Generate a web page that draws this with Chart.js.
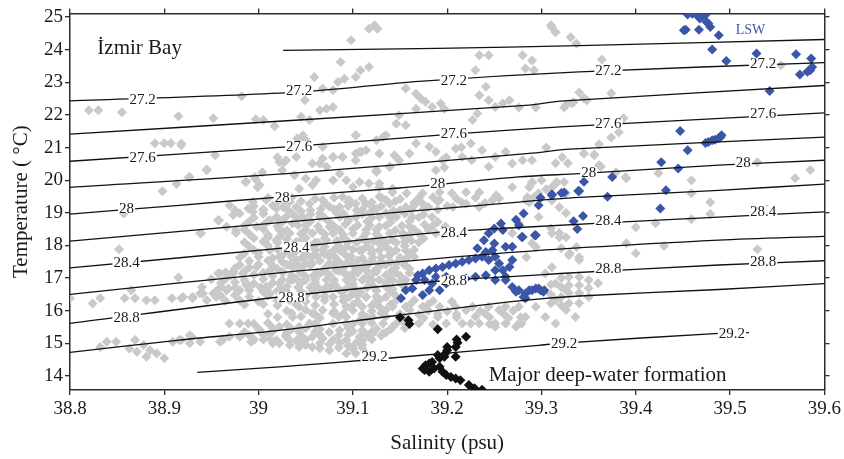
<!DOCTYPE html>
<html>
<head>
<meta charset="utf-8">
<script src="https://cdn.jsdelivr.net/npm/chart.js@4.4.1/dist/chart.umd.min.js"></script>
<style>
  html, body { margin: 0; padding: 0; background: #fff; }
  #wrap { width: 844px; height: 459px; }
</style>
</head>
<body>
<div id="wrap"><canvas id="ts" width="844" height="459"></canvas></div>
<script>
"use strict";

// Isopycnals (sigma-theta) as [salinity, temperature]
const sigma270 = [[39.026, 23.98], [39.19, 24.04], [39.34, 24.12], [39.6, 24.31]];
const sigma272 = [[38.8, 22.43], [39.043, 22.70], [39.17, 23.03], [39.34, 23.32], [39.6, 23.60]];
const sigma274 = [[38.8, 21.41], [39.03, 21.82], [39.287, 22.30], [39.32, 22.42], [39.6, 22.90]];
const sigma276 = [[38.8, 20.58], [39.03, 21.02], [39.205, 21.41], [39.32, 21.63], [39.6, 22.06]];
const sigma278 = [[38.8, 19.78], [39.03, 20.20], [39.287, 20.82], [39.33, 20.95], [39.6, 21.32]];
const sigma280 = [[38.8, 18.96], [38.916, 19.23], [39.025, 19.49], [39.149, 19.76], [39.276, 20.10], [39.34, 20.20], [39.488, 20.46], [39.6, 20.61]];
const sigma282 = [[38.8, 18.13], [39.022, 18.70], [39.276, 19.33], [39.34, 19.47], [39.488, 19.69], [39.6, 19.88]];
const sigma284 = [[38.8, 17.31], [39.022, 17.91], [39.19, 18.40], [39.276, 18.55], [39.488, 18.87], [39.6, 19.03]];
const sigma286 = [[38.8, 16.50], [39.022, 17.16], [39.276, 17.80], [39.488, 18.16], [39.6, 18.28]];
const sigma288 = [[38.8, 15.61], [39.022, 16.42], [39.205, 16.94], [39.276, 17.06], [39.32, 17.14], [39.488, 17.40], [39.6, 17.53]];
const sigma290 = [[38.8, 14.72], [38.916, 15.10], [39.022, 15.40], [39.149, 15.86], [39.276, 16.30], [39.34, 16.45], [39.488, 16.65], [39.6, 16.83]];
const sigma292 = [[38.935, 14.11], [39.022, 14.28], [39.14, 14.55], [39.297, 14.94], [39.319, 15.0], [39.484, 15.30], [39.52, 15.33]];

// Contour labels: [text, salinity, temperature]
const contourLabels = [
    ["27.2", 38.877, 22.48], ["27.2", 39.043, 22.76], ["27.2", 39.207, 23.06], ["27.2", 39.371, 23.37], ["27.2", 39.535, 23.58],
    ["27.6", 38.877, 20.70], ["27.6", 39.043, 21.04], ["27.6", 39.207, 21.44], ["27.6", 39.371, 21.74], ["27.6", 39.535, 22.05],
    ["28", 38.86, 19.14], ["28", 39.025, 19.48], ["28", 39.19, 19.91], ["28", 39.35, 20.24], ["28", 39.514, 20.55],
    ["28.4", 38.86, 17.49], ["28.4", 39.04, 17.95], ["28.4", 39.207, 18.41], ["28.4", 39.371, 18.77], ["28.4", 39.535, 19.05],
    ["28.8", 38.86, 15.81], ["28.8", 39.035, 16.42], ["28.8", 39.207, 16.94], ["28.8", 39.371, 17.30], ["28.8", 39.535, 17.52],
    ["29.2", 39.123, 14.61], ["29.2", 39.324, 15.01], ["29.2", 39.502, 15.31],
];

// Izmir Bay stations [salinity, temperature]
const bayStations = [
    [38.82, 22.14], [38.83, 22.14], [38.855, 22.08], [38.915, 21.96], [38.952, 21.90], [38.982, 22.57], [38.997, 21.87],
    [39.005, 21.84], [39.017, 21.65], [38.89, 21.13], [38.90, 21.13], [38.907, 21.13], [38.918, 21.07], [38.954, 20.76],
    [38.945, 20.33], [38.926, 20.09], [38.913, 19.88], [38.898, 19.66], [38.986, 19.94], [38.999, 19.78], [39.004, 20.24],
    [39.02, 20.70], [39.027, 20.55], [39.038, 20.15], [39.025, 20.30], [39.041, 21.28], [38.997, 20.03],
    [39.117, 24.64], [39.126, 24.64], [39.123, 24.75], [39.098, 24.29], [39.087, 23.62], [39.108, 23.37], [39.117, 23.47],
    [39.103, 23.16], [39.091, 23.11], [39.084, 23.01], [39.079, 22.76], [39.068, 22.81], [39.059, 23.16], [39.049, 22.45],
    [39.045, 21.94], [39.065, 22.14], [39.072, 22.19], [39.079, 22.24], [39.054, 21.84], [39.156, 22.81], [39.167, 22.65],
    [39.172, 22.50], [39.184, 22.24], [39.193, 22.35], [39.197, 22.19], [39.177, 22.40], [39.167, 22.19], [39.156, 21.68],
    [39.149, 21.99], [39.146, 21.73], [39.135, 21.38], [39.125, 21.22], [39.114, 20.92], [39.103, 20.82], [39.089, 20.71],
    [39.079, 20.71], [39.068, 20.66], [39.057, 20.51], [39.103, 21.38], [39.125, 20.30], [39.139, 20.41], [39.149, 20.61],
    [39.16, 20.82], [39.167, 21.12], [39.181, 21.02], [39.188, 20.87], [39.195, 20.61], [39.209, 20.97], [39.234, 23.83],
    [39.244, 23.83], [39.23, 23.37], [39.241, 22.86], [39.244, 22.45], [39.234, 22.60], [39.232, 22.04], [39.227, 21.84],
    [39.259, 22.35], [39.266, 22.45], [39.251, 22.24], [39.28, 23.83], [39.283, 23.42], [39.225, 21.12], [39.237, 20.92],
    [39.251, 20.71], [39.262, 20.87], [39.216, 20.71], [39.244, 20.41], [39.269, 20.51], [39.28, 20.61],
    [39.31, 24.75], [39.311, 24.68], [39.315, 24.53], [39.331, 24.38], [39.29, 23.67], [39.292, 23.37], [39.276, 22.23],
    [39.294, 22.23], [39.324, 22.23], [39.332, 22.36], [39.305, 21.0], [39.315, 20.52], [39.322, 20.70], [39.29, 20.61],
    [39.107, 19.94], [39.128, 19.78], [39.142, 19.63], [39.157, 19.60], [39.174, 19.60], [39.192, 19.63], [39.205, 19.60],
    [39.22, 19.63], [39.234, 19.63], [39.252, 19.54], [39.269, 19.78], [39.29, 19.94], [39.315, 19.88], [39.326, 19.60],
    [39.107, 20.86], [39.128, 20.82], [39.144, 20.76], [39.199, 20.70], [39.197, 20.39], [39.188, 20.30], [39.226, 20.61],
    [39.215, 21.01],
    [39.337, 24.19], [39.364, 23.70], [39.326, 22.30], [39.334, 22.39], [39.34, 22.69], [39.345, 22.51], [39.348, 22.45],
    [39.374, 22.66], [39.387, 21.90], [39.382, 21.47], [39.374, 21.31], [39.361, 21.10], [39.345, 20.82], [39.356, 20.79],
    [39.363, 20.42], [39.328, 20.52], [39.324, 19.94], [39.379, 20.24], [39.389, 20.09], [39.529, 20.55], [39.569, 20.06],
    [39.585, 20.31], [39.554, 23.52],
    [39.459, 19.60], [39.479, 19.32], [39.479, 18.96], [39.459, 18.80], [39.40, 18.56], [39.421, 18.68], [39.40, 17.76],
    [39.39, 18.07], [39.43, 17.98], [39.529, 17.88], [39.539, 19.11], [39.39, 20.06], [39.424, 20.21], [39.459, 20.0],
    [39.279, 15.61], [39.278, 15.80], [39.321, 17.91], [39.329, 17.70], [39.34, 17.64], [39.319, 18.25], [39.31, 18.53],
    [39.29, 18.07], [39.319, 18.38], [39.33, 17.76], [39.34, 17.55],
    [39.321, 17.0], [39.321, 16.72], [39.321, 16.42], [39.321, 16.17], [39.329, 17.03], [39.329, 16.78], [39.329, 16.54],
    [39.329, 16.23], [39.34, 17.03], [39.34, 16.78], [39.34, 16.54], [39.34, 16.23], [39.35, 16.94], [39.35, 16.69],
    [39.35, 16.42], [39.36, 16.84], [39.31, 16.23], [39.31, 16.5], [39.31, 16.8],
    [39.356, 20.76], [39.345, 20.82], [39.361, 20.46], [39.29, 19.91], [39.30, 20.0], [39.305, 19.72], [39.311, 19.78],
    [39.316, 19.94], [39.297, 19.60], [39.292, 19.48], [39.285, 19.48], [39.287, 19.32],
    [39.287, 19.78], [39.284, 19.38], [39.311, 19.38], [39.319, 19.17], [39.326, 18.99], [39.297, 18.87], [39.276, 18.68],
    [39.269, 18.37], [39.311, 18.37], [39.326, 18.25], [39.337, 17.95], [39.294, 17.95], [39.284, 17.64], [39.311, 17.33],
    [38.918, 21.12], [38.945, 20.30], [38.927, 20.10], [38.987, 19.95], [38.996, 20.10], [39.001, 19.85], [39.022, 20.56],
    [39.029, 20.61], [39.04, 20.71], [39.047, 21.38], [39.05, 21.22], [39.068, 21.02], [39.079, 20.71], [39.089, 20.71],
    [39.103, 20.61], [39.109, 20.87], [39.103, 21.38], [39.132, 21.32], [39.139, 20.41], [39.125, 20.25], [39.117, 19.90],
    [39.128, 19.90], [39.142, 19.74], [39.05, 20.05], [39.061, 20.0], [39.057, 19.85], [39.043, 19.74], [39.033, 19.33],
    [39.026, 19.18], [39.019, 19.13], [39.005, 19.08], [38.994, 19.03], [38.989, 19.13], [38.969, 19.23], [38.975, 19.08],
    [38.98, 18.98], [38.957, 18.77], [38.966, 18.57], [38.976, 18.47], [38.938, 18.37], [38.998, 18.57], [39.012, 18.77],
    [39.022, 18.47], [39.036, 18.67], [39.047, 18.83], [39.065, 18.98], [39.075, 18.57], [39.089, 19.49], [39.096, 19.39],
    [39.114, 19.28], [39.128, 19.49], [39.135, 19.39], [39.086, 18.47], [39.114, 18.47], [39.128, 18.57], [39.072, 18.16],
    [39.022, 18.26], [39.019, 18.16], [39.012, 17.85], [39.022, 17.65], [39.04, 17.55], [39.057, 17.65], [39.075, 17.75],
    [39.093, 17.96], [39.107, 17.85], [39.128, 18.06], [39.142, 18.16], [39.10, 17.45], [39.128, 17.45], [39.079, 20.0],
    [39.093, 20.0], [39.10, 19.79], [39.086, 20.20], [39.072, 20.41], [39.065, 20.51],
    [38.959, 17.14], [38.973, 17.14], [38.987, 16.78], [38.98, 16.63], [38.966, 16.63], [38.952, 16.53], [38.941, 16.53],
    [38.93, 16.42], [38.92, 16.42], [38.969, 15.61], [38.98, 15.61], [38.989, 15.61], [38.927, 15.25], [38.916, 15.10],
    [38.962, 15.10], [38.992, 15.05], [39.012, 15.15], [39.019, 15.10], [39.029, 15.25], [39.043, 15.35], [39.057, 15.20],
    [39.068, 15.15], [39.079, 15.10], [39.093, 15.10], [39.103, 15.0], [39.114, 14.69], [39.075, 14.79], [39.057, 14.89],
    [39.043, 15.0], [39.033, 15.10], [39.008, 16.73], [39.022, 16.83], [39.036, 16.94], [39.05, 17.04], [39.065, 17.14],
    [39.082, 17.24], [39.10, 17.14], [39.114, 17.24], [39.128, 17.34], [39.005, 17.14], [38.998, 17.34], [39.015, 17.34],
    [39.033, 17.40], [39.05, 17.45], [39.012, 16.53], [39.033, 16.32], [39.043, 16.12], [39.057, 15.92], [39.054, 15.61],
    [39.043, 15.51], [39.036, 15.81], [39.068, 16.02], [39.079, 15.92], [39.093, 15.81], [39.107, 15.71], [39.121, 15.81],
    [39.135, 16.02], [39.128, 16.32], [39.114, 16.42], [39.10, 16.53], [39.086, 16.63], [39.072, 16.73], [39.057, 16.63],
    [39.142, 15.51], [39.132, 15.30], [39.121, 15.30], [39.107, 15.20],
    [38.80, 16.38], [38.824, 16.22], [38.832, 16.38], [38.858, 16.38], [38.869, 16.38], [38.881, 16.32], [38.89, 16.32],
    [38.908, 16.38], [38.918, 16.38], [38.93, 16.38], [38.938, 16.53], [38.945, 16.32], [38.955, 16.42], [38.915, 17.02],
    [38.865, 16.63], [38.852, 17.88], [38.857, 18.98], [38.939, 18.37], [38.958, 18.77], [38.973, 18.93], [38.976, 18.38],
    [38.968, 16.68], [38.978, 16.63], [38.987, 16.83], [38.983, 17.14], [38.973, 17.19], [38.957, 17.14],
    [38.832, 14.89], [38.839, 15.05], [38.849, 15.05], [38.869, 15.10], [38.878, 14.95], [38.885, 14.79], [38.892, 14.69],
    [38.90, 14.54], [38.881, 14.59], [38.871, 14.74], [38.863, 14.84], [38.909, 15.05], [38.918, 15.10], [38.929, 15.20],
    [38.927, 15.0], [38.938, 15.05], [38.959, 15.05], [38.969, 15.20], [38.98, 15.20], [38.994, 15.15], [39.001, 15.40],
    [39.012, 15.30], [39.022, 15.51], [39.029, 15.20], [39.043, 14.89], [39.015, 15.0], [39.033, 14.95],
    [38.994, 19.33], [39.008, 19.39], [39.019, 18.87], [39.026, 18.41], [39.029, 17.80], [39.036, 17.34], [39.029, 16.63],
    [39.022, 16.32], [39.012, 17.24],
    [39.028, 19.39], [39.04, 19.18], [39.054, 19.28], [39.068, 19.39], [39.086, 19.18], [39.103, 19.28], [39.121, 19.18],
    [39.139, 19.28], [39.156, 19.18], [39.174, 19.28], [39.192, 19.39], [39.206, 19.18], [39.22, 19.28], [39.234, 19.18],
    [39.248, 19.39],
    [39.029, 18.87], [39.047, 18.87], [39.065, 18.87], [39.086, 18.87], [39.103, 18.87], [39.128, 18.87], [39.146, 18.87],
    [39.163, 18.87], [39.184, 18.87], [39.033, 18.37], [39.057, 18.37], [39.079, 18.37], [39.10, 18.37], [39.114, 18.37],
    [39.139, 18.37], [39.153, 18.37], [39.17, 18.37], [39.188, 18.37], [39.213, 18.37], [39.029, 17.85], [39.047, 17.85],
    [39.068, 17.85], [39.086, 17.85], [39.11, 17.85], [39.128, 17.85], [39.146, 17.85], [39.156, 17.85], [39.04, 17.45],
    [39.057, 17.45], [39.075, 17.45], [39.093, 17.45], [39.114, 17.45], [39.132, 17.45], [39.146, 17.45], [39.033, 16.94],
    [39.05, 16.94], [39.072, 16.94], [39.093, 16.94], [39.11, 16.94], [39.128, 16.94], [39.142, 16.94], [39.156, 16.94],
    [39.043, 16.42], [39.061, 16.42], [39.079, 16.42], [39.096, 16.42], [39.114, 16.42], [39.135, 16.42],
    [39.093, 16.12], [39.11, 16.12], [39.128, 16.12], [39.142, 16.12], [39.156, 16.12], [39.174, 16.12], [39.192, 16.12],
    [39.209, 16.12], [39.227, 16.12], [39.244, 16.12], [39.262, 16.12], [39.276, 16.12],
    [39.079, 15.61], [39.093, 15.61], [39.11, 15.61], [39.132, 15.61], [39.146, 15.61], [39.17, 15.61], [39.199, 15.61],
    [39.216, 15.61], [39.234, 15.61], [39.251, 15.61], [39.262, 15.61], [39.276, 15.61], [39.086, 15.40], [39.11, 15.40],
    [39.022, 15.0], [39.065, 15.0], [39.086, 15.0], [39.093, 14.69], [39.103, 14.69],
    [39.304, 17.14], [39.315, 16.83], [39.326, 16.63], [39.315, 16.32], [39.326, 16.02], [39.336, 15.81], [39.315, 15.61],
    [39.304, 15.81], [39.294, 16.12], [39.283, 15.81], [39.273, 15.51], [39.262, 15.61], [39.251, 15.51],
    [39.045, 19.05], [39.066, 19.12], [39.082, 19.02], [39.104, 19.08], [39.118, 19.0], [39.143, 19.06], [39.162, 19.1],
    [39.042, 18.62], [39.063, 18.58], [39.092, 18.65], [39.118, 18.62], [39.152, 18.6], [39.176, 18.64], [39.198, 18.58],
    [39.044, 18.12], [39.063, 18.08], [39.083, 18.14], [39.104, 18.1], [39.122, 18.12], [39.146, 18.08], [39.162, 18.14],
    [39.024, 17.66], [39.046, 17.62], [39.062, 17.68], [39.081, 17.64], [39.098, 17.66], [39.121, 17.62], [39.138, 17.68],
    [39.158, 17.64], [39.026, 17.18], [39.043, 17.22], [39.062, 17.18], [39.085, 17.22], [39.103, 17.2], [39.122, 17.18],
    [39.141, 17.22], [39.16, 17.16], [39.002, 16.72], [39.024, 16.66], [39.042, 16.72], [39.064, 16.68], [39.083, 16.72],
    [39.102, 16.68], [39.123, 16.72], [39.142, 16.66],
    // dense core of the cloud
    [39.01, 19.45], [39.035, 19.47], [39.06, 19.43], [39.08, 19.46], [39.11, 19.44], [39.13, 19.47], [39.15, 19.42],
    [39.17, 19.45], [39.185, 19.48], [39.21, 19.43], [39.23, 19.46], [39.255, 19.44],
    [38.995, 19.2], [39.015, 19.22], [39.075, 19.19], [39.095, 19.21], [39.13, 19.2], [39.165, 19.22], [39.18, 19.18],
    [39.2, 19.21], [39.005, 18.97], [39.035, 18.99], [39.055, 18.95], [39.09, 18.98], [39.11, 18.96], [39.135, 18.99],
    [39.155, 18.97], [39.175, 18.95], [38.99, 18.73], [39.01, 18.75], [39.025, 18.71], [39.055, 18.74], [39.075, 18.72],
    [39.095, 18.75], [39.115, 18.73], [39.14, 18.71], [39.16, 18.74], [39.19, 18.72], [38.985, 18.48], [39.005, 18.5],
    [39.03, 18.46], [39.05, 18.49], [39.065, 18.47], [39.1, 18.5], [39.125, 18.48], [39.145, 18.46], [39.165, 18.49],
    [39.18, 18.47], [39.2, 18.5], [38.995, 18.22], [39.01, 18.24], [39.03, 18.2], [39.05, 18.23], [39.07, 18.21],
    [39.09, 18.24], [39.11, 18.22], [39.13, 18.2], [39.155, 18.23], [39.175, 18.21], [38.99, 17.97], [39.01, 17.99],
    [39.03, 17.95], [39.055, 17.98], [39.07, 17.96], [39.085, 17.99], [39.115, 17.97], [39.135, 17.95], [39.155, 17.98],
    [38.985, 17.75], [39.0, 17.77], [39.035, 17.73], [39.05, 17.76], [39.07, 17.74], [39.09, 17.77], [39.12, 17.75],
    [39.14, 17.73], [39.16, 17.76], [38.99, 17.52], [39.01, 17.54], [39.025, 17.5], [39.065, 17.53], [39.085, 17.51],
    [39.105, 17.54], [39.12, 17.52], [39.14, 17.5], [39.155, 17.53], [38.975, 17.3], [38.99, 17.32], [39.02, 17.28],
    [39.045, 17.31], [39.07, 17.29], [39.09, 17.32], [39.108, 17.3], [39.125, 17.28], [39.145, 17.31], [39.16, 17.29],
    [38.97, 17.08], [38.995, 17.1], [39.015, 17.06], [39.035, 17.09], [39.058, 17.07], [39.075, 17.1], [39.095, 17.08],
    [39.115, 17.06], [39.135, 17.09], [39.15, 17.07], [38.96, 16.85], [38.975, 16.87], [38.995, 16.83], [39.015, 16.86],
    [39.045, 16.84], [39.06, 16.87], [39.08, 16.85], [39.1, 16.83], [39.118, 16.86], [39.135, 16.84], [39.15, 16.87],
    [38.955, 16.6], [38.99, 16.62], [39.005, 16.58], [39.02, 16.61], [39.045, 16.59], [39.07, 16.62], [39.09, 16.6],
    [39.108, 16.58], [39.125, 16.61], [39.14, 16.59], [38.965, 16.3], [38.98, 16.32], [39.0, 16.28], [39.02, 16.31],
    [39.05, 16.29], [39.07, 16.32], [39.09, 16.3], [39.105, 16.28], [39.125, 16.31], [39.145, 16.29], [39.165, 16.32],
    [39.185, 16.3], [39.205, 16.28], [39.03, 16.0], [39.05, 16.02], [39.08, 15.98], [39.1, 16.01], [39.12, 15.99],
    [39.16, 16.02], [39.18, 16.0], [39.2, 15.98], [39.22, 16.01], [39.235, 15.99], [39.255, 16.02], [39.27, 16.0],
    [39.02, 15.8], [39.045, 15.82], [39.065, 15.78], [39.085, 15.81], [39.115, 15.79], [39.135, 15.82], [39.155, 15.8],
    [39.175, 15.78], [39.19, 15.81], [39.21, 15.79], [39.23, 15.82], [39.245, 15.8], [39.265, 15.78],
    [39.0, 15.45], [39.015, 15.47], [39.035, 15.43], [39.05, 15.46], [39.065, 15.44], [39.095, 15.47], [39.125, 15.45],
    [39.14, 15.43], [39.155, 15.46], [38.99, 15.25], [39.005, 15.27], [39.045, 15.23], [39.065, 15.26], [39.085, 15.24],
    [39.095, 15.27], [39.115, 15.25], [39.13, 15.23], [39.065, 14.85], [39.085, 14.87], [39.1, 14.83], [39.11, 14.86],
    [39.02, 19.33], [39.045, 19.35], [39.07, 19.31], [39.095, 19.34], [39.12, 19.32], [39.145, 19.35], [39.165, 19.31],
    [39.19, 19.34], [39.215, 19.32], [39.24, 19.3], [39.005, 19.1], [39.03, 19.12], [39.055, 19.08], [39.08, 19.11],
    [39.11, 19.09], [39.125, 19.12], [39.15, 19.08], [39.175, 19.11], [39.19, 19.09], [38.995, 18.85], [39.02, 18.83],
    [39.04, 18.86], [39.07, 18.84], [39.095, 18.82], [39.12, 18.85], [39.14, 18.83], [39.17, 18.86], [38.985, 18.6],
    [39.005, 18.62], [39.02, 18.58], [39.05, 18.61], [39.08, 18.59], [39.105, 18.62], [39.135, 18.6], [39.16, 18.58],
    [39.185, 18.61], [38.99, 18.35], [39.01, 18.33], [39.045, 18.36], [39.07, 18.34], [39.09, 18.32], [39.125, 18.35],
    [39.16, 18.33], [39.195, 18.36], [38.985, 18.1], [39.005, 18.12], [39.02, 18.08], [39.04, 18.11], [39.06, 18.09],
    [39.095, 18.12], [39.115, 18.1], [39.135, 18.08], [39.155, 18.11], [39.17, 18.09], [38.995, 17.86], [39.02, 17.88],
    [39.04, 17.84], [39.06, 17.87], [39.08, 17.85], [39.1, 17.88], [39.12, 17.86], [39.14, 17.84], [39.165, 17.87],
    [38.98, 17.63], [39.0, 17.65], [39.015, 17.61], [39.035, 17.64], [39.055, 17.62], [39.075, 17.65], [39.095, 17.63],
    [39.11, 17.61], [39.13, 17.64], [39.15, 17.62], [39.165, 17.65], [38.98, 17.4], [39.0, 17.42], [39.015, 17.38],
    [39.03, 17.41], [39.055, 17.39], [39.08, 17.42], [39.1, 17.4], [39.115, 17.38], [39.135, 17.41], [39.155, 17.39],
    [38.965, 17.18], [38.985, 17.2], [39.005, 17.16], [39.025, 17.19], [39.045, 17.17], [39.07, 17.2], [39.09, 17.18],
    [39.105, 17.16], [39.125, 17.19], [39.145, 17.17], [38.95, 16.96], [38.965, 16.98], [38.985, 16.94], [39.005, 16.97],
    [39.025, 16.95], [39.04, 16.98], [39.06, 16.96], [39.08, 16.94], [39.1, 16.97], [39.12, 16.95], [39.14, 16.98],
    [38.94, 16.72], [38.96, 16.74], [38.975, 16.7], [38.99, 16.73], [39.01, 16.71], [39.03, 16.74], [39.055, 16.72],
    [39.075, 16.7], [39.095, 16.73], [39.115, 16.71], [39.135, 16.74], [39.155, 16.72], [38.96, 16.45], [38.975, 16.47],
    [38.99, 16.43], [39.01, 16.46], [39.03, 16.44], [39.05, 16.47], [39.07, 16.45], [39.09, 16.43], [39.105, 16.46],
    [39.125, 16.44], [39.145, 16.47], [38.985, 16.18], [39.005, 16.2], [39.02, 16.16], [39.04, 16.19], [39.06, 16.17],
    [39.08, 16.2], [39.1, 16.18], [39.12, 16.16], [39.14, 16.19], [39.16, 16.17], [39.18, 16.2], [39.01, 15.9],
    [39.035, 15.92], [39.06, 15.88], [39.09, 15.91], [39.11, 15.89], [39.13, 15.92], [39.15, 15.9], [39.17, 15.88],
    [39.19, 15.91], [39.21, 15.89], [39.24, 15.92], [39.26, 15.9], [38.995, 15.6], [39.01, 15.62], [39.03, 15.58],
    [39.06, 15.61], [39.1, 15.59], [39.12, 15.62], [39.155, 15.6], [39.185, 15.58], [39.225, 15.61], [39.245, 15.59],
    [38.985, 15.35], [39.015, 15.37], [39.03, 15.33], [39.06, 15.36], [39.075, 15.34], [39.1, 15.37], [39.12, 15.35],
    [39.135, 15.33], [38.995, 15.1], [39.005, 15.12], [39.04, 15.08], [39.05, 15.11], [39.11, 15.09], [39.12, 15.12],
    [39.05, 14.95], [39.075, 14.97], [39.095, 14.93], [39.11, 14.96],
];

// Levantine Surface Water stations
const lswStations = [
    [39.455, 25.08], [39.46, 25.10], [39.465, 25.05], [39.47, 25.02], [39.474, 25.07], [39.468, 24.95],
    [39.451, 24.59], [39.453, 24.61], [39.467, 24.61], [39.475, 24.85], [39.477, 24.80], [39.479, 24.69], [39.488, 24.44],
    [39.481, 24.0], [39.496, 23.65], [39.528, 23.88], [39.542, 22.73], [39.570, 23.86], [39.574, 23.24], [39.582, 23.32],
    [39.585, 23.37], [39.587, 23.47], [39.586, 23.73],
    [39.447, 21.51], [39.455, 20.92], [39.427, 20.55], [39.445, 20.36], [39.432, 19.69], [39.426, 19.13],
    [39.474, 21.14], [39.477, 21.17], [39.481, 21.22], [39.484, 21.24], [39.488, 21.29], [39.49, 21.32], [39.491, 21.38],
    [39.375, 20.10], [39.345, 19.95], [39.339, 19.67], [39.324, 19.62], [39.37, 19.49],
    [39.34, 19.67], [39.311, 19.57], [39.299, 19.46], [39.297, 19.23], [39.281, 18.98], [39.276, 18.62], [39.279, 18.26],
    [39.293, 18.31], [39.334, 18.74], [39.338, 18.50], [39.344, 18.90], [39.311, 19.54], [39.321, 19.61],
    [39.273, 18.79], [39.257, 18.67], [39.25, 18.52], [39.259, 18.47], [39.244, 18.37], [39.239, 18.16], [39.232, 17.91],
    [39.241, 17.80], [39.25, 18.06], [39.262, 17.96], [39.269, 17.96], [39.28, 18.26], [39.294, 18.31],
    [39.248, 17.85], [39.251, 17.65], [39.255, 17.45], [39.259, 17.24], [39.262, 17.04], [39.266, 17.34], [39.269, 17.55],
    [39.251, 17.24], [39.244, 17.55], [39.237, 17.65], [39.23, 17.60], [39.223, 17.55], [39.216, 17.50], [39.209, 17.45],
    [39.202, 17.40], [39.195, 17.34], [39.188, 17.29], [39.181, 17.24], [39.174, 17.14], [39.169, 17.09], [39.176, 16.94],
    [39.184, 16.83], [39.181, 16.63], [39.174, 16.48], [39.163, 16.68], [39.156, 16.63], [39.151, 16.38], [39.167, 16.94],
    [39.188, 17.04], [39.199, 17.04], [39.209, 16.94], [39.22, 16.99], [39.23, 17.04], [39.241, 17.09], [39.251, 16.94],
    [39.262, 16.94], [39.269, 16.73], [39.276, 16.63], [39.283, 16.53], [39.29, 16.63], [39.297, 16.68], [39.303, 16.63],
    [39.283, 16.38], [39.273, 16.58], [39.192, 16.63], [39.199, 16.83],
    [39.287, 16.63], [39.294, 16.68], [39.299, 16.63], [39.302, 16.58], [39.281, 16.42],
];

// Major deep-water formation stations
const deepStations = [
    [39.15, 15.79], [39.159, 15.71], [39.16, 15.59], [39.19, 15.43], [39.20, 14.89], [39.20, 14.79], [39.198, 14.69],
    [39.197, 14.59], [39.21, 15.12], [39.211, 15.02], [39.209, 14.89], [39.22, 15.20], [39.209, 14.59], [39.19, 14.64],
    [39.192, 14.54], [39.184, 14.43], [39.181, 14.38], [39.177, 14.33], [39.174, 14.23], [39.176, 14.18], [39.181, 14.13],
    [39.186, 14.23], [39.192, 14.28], [39.195, 14.13], [39.199, 14.03], [39.204, 13.97], [39.209, 13.92], [39.214, 13.87],
    [39.223, 13.72], [39.229, 13.62], [39.237, 13.58],
];

const isopycnals = [sigma270, sigma272, sigma274, sigma276, sigma278, sigma280,
    sigma282, sigma284, sigma286, sigma288, sigma290, sigma292];

const SERIF = '"Liberation Serif", "DejaVu Serif", serif';
const toXY = (arr) => arr.map(([s, t]) => ({ x: s, y: t }));

/**
 * Contour labels with a white box that breaks the line, plus the free text notes
 */
const annotationPlugin = {
    id: "tsAnnotations",
    afterDatasetsDraw(chart) {
        const { ctx, scales } = chart;
        const x = scales.x;
        const y = scales.y;
        ctx.save();

        ctx.font = "15px " + SERIF;
        ctx.textAlign = "center";
        ctx.textBaseline = "middle";
        contourLabels.forEach(([text, s, t]) => {
            const px = x.getPixelForValue(s);
            const py = y.getPixelForValue(t);
            const w = ctx.measureText(text).width;
            ctx.fillStyle = "#fff";
            ctx.fillRect(px - w / 2 - 1, py - 5, w + 2, 10);
            ctx.fillStyle = "#1a1a1a";
            ctx.fillText(text, px, py + 1);
        });

        // Free text
        ctx.textAlign = "left";
        ctx.font = "21px " + SERIF;
        ctx.fillStyle = "#1a1a1a";
        ctx.fillText("İzmir Bay", x.getPixelForValue(38.829), y.getPixelForValue(24.05));
        ctx.fillText("Major deep-water formation", x.getPixelForValue(39.244), y.getPixelForValue(14.03));
        ctx.font = "14px " + SERIF;
        ctx.fillStyle = "#3f57aa";
        ctx.fillText("LSW", x.getPixelForValue(39.506), y.getPixelForValue(24.59));

        ctx.restore();
    },
};

const axisBorder = { display: true, color: "#2b2b2b", width: 1.5 };
const tickGrid = { drawOnChartArea: false, drawTicks: true, tickLength: 5, color: "#2b2b2b", lineWidth: 1.3 };
const tickFont = { family: SERIF, size: 19 };
const titleFont = { family: SERIF, size: 21 };

const datasets = [];
isopycnals.forEach((line) => {
    datasets.push({
        data: toXY(line),
        showLine: true,
        borderColor: "#111",
        borderWidth: 1.3,
        pointRadius: 0,
        tension: 0.3,
        order: 0,
    });
});
datasets.push({
    data: toXY(deepStations),
    backgroundColor: "#111",
    borderWidth: 0,
    pointStyle: "rectRot",
    pointRadius: 5,
    order: 1,
});
datasets.push({
    data: toXY(lswStations),
    backgroundColor: "#3b55a8",
    borderWidth: 0,
    pointStyle: "rectRot",
    pointRadius: 5,
    order: 1,
});
datasets.push({
    data: toXY(bayStations),
    backgroundColor: "#c9c9c9",
    borderWidth: 0,
    pointStyle: "rectRot",
    pointRadius: 5,
    order: 2,
});

new Chart(document.getElementById("ts"), {
    type: "scatter",
    data: { datasets },
    options: {
        responsive: false,
        animation: false,
        events: [],
        layout: { padding: 0 },
        plugins: {
            legend: { display: false },
            tooltip: { enabled: false },
        },
        scales: {
            x: {
                type: "linear",
                position: "bottom",
                min: 38.8,
                max: 39.6,
                ticks: {
                    stepSize: 0.1,
                    includeBounds: false,
                    font: tickFont,
                    color: "#1a1a1a",
                    padding: 3,
                    maxRotation: 0,
                    callback: (v) => String(Number(v.toFixed(1))),
                },
                grid: tickGrid,
                border: axisBorder,
                title: {
                    display: true,
                    text: "Salinity (psu)",
                    font: titleFont,
                    color: "#1a1a1a",
                    padding: { top: 0, bottom: 3 },
                },
                afterFit: (s) => { s.height = 69; },
            },
            xTop: {
                type: "linear",
                position: "top",
                min: 38.8,
                max: 39.6,
                ticks: { stepSize: 0.1, includeBounds: false, display: false },
                grid: tickGrid,
                border: axisBorder,
                afterFit: (s) => { s.height = 13; },
            },
            y: {
                type: "linear",
                position: "left",
                min: 13.57,
                max: 25.11,
                ticks: {
                    stepSize: 1,
                    includeBounds: false,
                    font: tickFont,
                    color: "#1a1a1a",
                    padding: 2,
                },
                grid: tickGrid,
                border: axisBorder,
                title: {
                    display: true,
                    text: "Temperature ( °C)",
                    font: titleFont,
                    color: "#1a1a1a",
                    padding: { top: 9, bottom: 0 },
                },
                afterFit: (s) => { s.width = 70; },
            },
            yRight: {
                type: "linear",
                position: "right",
                min: 13.57,
                max: 25.11,
                ticks: { stepSize: 1, includeBounds: false, display: false },
                grid: tickGrid,
                border: axisBorder,
                afterFit: (s) => { s.width = 18; },
            },
        },
    },
    plugins: [annotationPlugin],
});
</script>
</body>
</html>
